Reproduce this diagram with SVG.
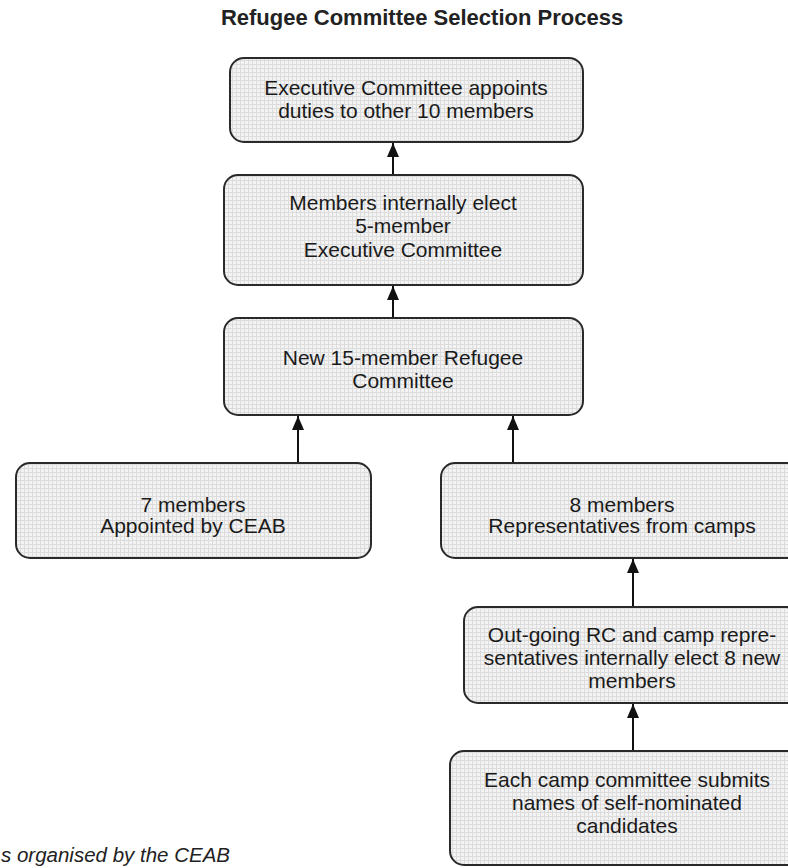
<svg xmlns="http://www.w3.org/2000/svg" width="788" height="868" viewBox="0 0 788 868">
<defs>
<pattern id="grid" width="4" height="4" patternUnits="userSpaceOnUse">
<rect width="4" height="4" fill="#f3f3f3"/>
<path d="M0 0.5H4M0.5 0V4" stroke="#dcdcdc" stroke-width="1"/>
</pattern>
<marker id="arr" markerWidth="14" markerHeight="12" refX="14" refY="6" orient="auto" markerUnits="userSpaceOnUse" viewBox="0 0 14 12">
<path d="M0 0L14 6L0 12Z" fill="#111"/>
</marker>
<style>
.box{fill:url(#grid);stroke:#2a2a2a;stroke-width:2}
.t{font-family:"Liberation Sans",Arial,sans-serif;font-size:21px;fill:#1a1a1a;text-anchor:middle}
.c{stroke:#111;stroke-width:2;fill:none}
</style>
</defs>
<rect width="788" height="868" fill="#fff"/>
<text x="422" y="25" font-family="Liberation Sans,Arial,sans-serif" font-weight="bold" font-size="22" fill="#222" text-anchor="middle">Refugee Committee Selection Process</text>

<g id="connectors">
<line class="c" x1="393" y1="175" x2="393" y2="143" marker-end="url(#arr)"/>
<line class="c" x1="393" y1="318" x2="393" y2="286" marker-end="url(#arr)"/>
<line class="c" x1="298" y1="463" x2="298" y2="416" marker-end="url(#arr)"/>
<line class="c" x1="513" y1="463" x2="513" y2="416" marker-end="url(#arr)"/>
<line class="c" x1="633" y1="607" x2="633" y2="559" marker-end="url(#arr)"/>
<line class="c" x1="633" y1="751" x2="633" y2="704" marker-end="url(#arr)"/>
</g>

<g id="n1">
<rect class="box" x="230" y="58" width="353" height="84" rx="14"/>
<text class="t" x="406" y="95">Executive Committee appoints</text>
<text class="t" x="406" y="118">duties to other 10 members</text>
</g>
<g id="n2">
<rect class="box" x="224" y="175" width="359" height="110" rx="14"/>
<text class="t" x="403" y="210">Members internally elect</text>
<text class="t" x="403" y="233">5-member</text>
<text class="t" x="403" y="257">Executive Committee</text>
</g>
<g id="n3">
<rect class="box" x="224" y="318" width="359" height="97" rx="14"/>
<text class="t" x="403" y="365">New 15-member Refugee</text>
<text class="t" x="403" y="388">Committee</text>
</g>
<g id="n4">
<rect class="box" x="16" y="463" width="355" height="95" rx="14"/>
<text class="t" x="193" y="512">7 members</text>
<text class="t" x="193" y="533">Appointed by CEAB</text>
</g>
<g id="n5">
<rect class="box" x="441" y="463" width="362" height="95" rx="14"/>
<text class="t" x="622" y="512">8 members</text>
<text class="t" x="622" y="533">Representatives from camps</text>
</g>
<g id="n6">
<rect class="box" x="464" y="607" width="336" height="96" rx="14"/>
<text class="t" x="632" y="642">Out-going RC and camp repre-</text>
<text class="t" x="632" y="665">sentatives internally elect 8 new</text>
<text class="t" x="632" y="688">members</text>
</g>
<g id="n7">
<rect class="box" x="450" y="751" width="354" height="114" rx="14"/>
<text class="t" x="627" y="787">Each camp committee submits</text>
<text class="t" x="627" y="810">names of self-nominated</text>
<text class="t" x="627" y="833">candidates</text>
</g>
<text x="230" y="862" font-family="Liberation Sans,Arial,sans-serif" font-style="italic" font-size="20.5" fill="#222" text-anchor="end">s organised by the CEAB</text>
</svg>
